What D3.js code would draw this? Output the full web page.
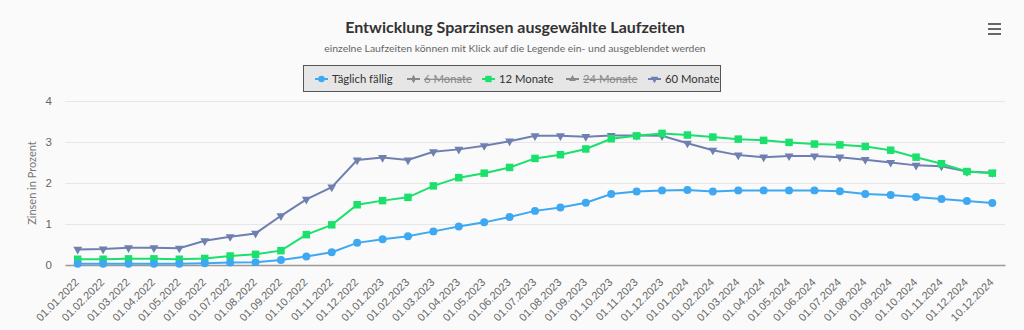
<!DOCTYPE html>
<html><head><meta charset="utf-8">
<script src="https://cdn.jsdelivr.net/npm/d3@7"></script>
<style>
html,body{margin:0;padding:0;background:#fafafa;}
svg{display:block;font-family:"Lato","Open Sans",sans-serif;}
</style></head>
<body>
<svg id="chart" width="1024" height="330"></svg>
<script>
const categories = ["01.01.2022","01.02.2022","01.03.2022","01.04.2022","01.05.2022","01.06.2022","01.07.2022","01.08.2022","01.09.2022","01.10.2022","01.11.2022","01.12.2022",
"01.01.2023","01.02.2023","01.03.2023","01.04.2023","01.05.2023","01.06.2023","01.07.2023","01.08.2023","01.09.2023","01.10.2023","01.11.2023","01.12.2023",
"01.01.2024","01.02.2024","01.03.2024","01.04.2024","01.05.2024","01.06.2024","01.07.2024","01.08.2024","01.09.2024","01.10.2024","01.11.2024","01.12.2024","10.12.2024"];
const taeglich = [0.03,0.03,0.03,0.03,0.03,0.04,0.06,0.07,0.12,0.21,0.31,0.54,
0.63,0.70,0.82,0.94,1.04,1.17,1.32,1.40,1.52,1.73,1.79,1.82,
1.83,1.79,1.82,1.82,1.82,1.82,1.80,1.73,1.71,1.66,1.61,1.56,1.51];
const monate12 = [0.14,0.14,0.15,0.15,0.14,0.16,0.22,0.26,0.35,0.74,0.98,1.47,
1.57,1.65,1.93,2.13,2.24,2.38,2.60,2.69,2.83,3.08,3.15,3.21,
3.17,3.12,3.07,3.04,2.99,2.95,2.93,2.89,2.80,2.63,2.47,2.28,2.24];
const monate60 = [0.38,0.39,0.42,0.42,0.41,0.59,0.69,0.77,1.20,1.60,1.90,2.56,
2.62,2.56,2.76,2.82,2.91,3.02,3.15,3.15,3.13,3.16,3.16,3.15,
2.97,2.80,2.68,2.63,2.66,2.66,2.63,2.57,2.50,2.43,2.41,2.28,2.25];
const yTicks = [0,1,2,3,4];
const legendNames = ["Täglich fällig","6 Monate","12 Monate","24 Monate","60 Monate"];
const legendVisible = [true,false,true,false,true];

const svg = d3.select("#chart");
const L = 65, R = 1005, T = 101, B = 265;
const x = d3.scaleBand().domain(categories).range([L,R]);
const y = d3.scaleLinear().domain([0,4]).range([B,T]);
const cx = d => x(d) + x.bandwidth()/2;

// title
svg.append("text").attr("x",515).attr("y",33).attr("text-anchor","middle")
  .attr("font-size",16).attr("font-weight","bold").attr("fill","#333")
  .text("Entwicklung Sparzinsen ausgewählte Laufzeiten");
svg.append("text").attr("x",515).attr("y",52).attr("text-anchor","middle")
  .attr("font-size",10.4).attr("fill","#666")
  .text("einzelne Laufzeiten können mit Klick auf die Legende ein- und ausgeblendet werden");

// menu icon
const menu = svg.append("g");
[0,5,10].forEach(o=>menu.append("rect").attr("x",988).attr("y",23+o).attr("width",13).attr("height",2).attr("fill","#666"));

// grid
const yAxis = d3.axisLeft(y).tickValues(yTicks).tickSize(-(R-L)).tickFormat(d3.format("d"));
const gy = svg.append("g").attr("transform",`translate(${L},0)`).call(yAxis);
gy.select(".domain").remove();
gy.selectAll(".tick line").attr("stroke","#e6e6e6");
gy.selectAll(".tick text").attr("x",-13).attr("font-size",11.5).attr("fill","#666").attr("font-family",null);

// y title
svg.append("text").attr("transform",`translate(36,${(T+B)/2}) rotate(-90)`).attr("text-anchor","middle")
  .attr("font-size",11).attr("fill","#777").text("Zinsen in Prozent");

// x axis
const xAxis = d3.axisBottom(x).tickSize(0).tickFormat(d=>d);
const gx = svg.append("g").attr("transform",`translate(0,${B})`).call(xAxis);
gx.select(".domain").attr("stroke","#999").attr("stroke-width",1.5);
gx.selectAll(".tick text").attr("font-size",11).attr("fill","#666").attr("font-family",null)
  .attr("text-anchor","end").attr("dy",0).attr("y",0)
  .attr("transform","translate(2,18) rotate(-45)");

// series
const series = [
  {name:"60 Monate", data:monate60, color:"#6f80b0", sym:d3.symbolTriangle, rot:180, size:34},
  {name:"12 Monate", data:monate12, color:"#1ae06c", sym:d3.symbolSquare, rot:0, size:56},
  {name:"Täglich fällig", data:taeglich, color:"#3ea8f2", sym:d3.symbolCircle, rot:0, size:50}
];
const line = d3.line().x((d,i)=>cx(categories[i])).y(d=>y(d));
series.forEach(s=>{
  const g = svg.append("g");
  g.append("path").datum(s.data).attr("d",line).attr("fill","none").attr("stroke",s.color).attr("stroke-width",2);
  g.selectAll("path.m").data(s.data).enter().append("path").attr("class","m")
    .attr("d",d3.symbol().type(s.sym).size(s.size))
    .attr("transform",(d,i)=>`translate(${cx(categories[i])},${y(d)}) rotate(${s.rot})`)
    .attr("fill",s.color);
});

// legend
const lg = svg.append("g");
lg.append("rect").attr("x",303.5).attr("y",65.5).attr("width",417).attr("height",26)
  .attr("fill","#e6e6e6").attr("stroke","#555").attr("stroke-width",1);
const legSym = {
  "Täglich fällig":{c:"#3ea8f2",s:d3.symbolCircle,r:0,z:34},
  "6 Monate":{c:"#777",s:d3.symbolDiamond,r:0,z:20},
  "12 Monate":{c:"#1ae06c",s:d3.symbolSquare,r:0,z:40},
  "24 Monate":{c:"#777",s:d3.symbolTriangle,r:0,z:20},
  "60 Monate":{c:"#6f80b0",s:d3.symbolTriangle,r:180,z:24}
};
const legX = [315, 407, 482, 566, 648];
legendNames.forEach((n,i)=>{
  const sx = legX[i], sy = 79;
  const info = legSym[n];
  const col = legendVisible[i] ? info.c : "#888";
  lg.append("line").attr("x1",sx).attr("x2",sx+13).attr("y1",sy).attr("y2",sy).attr("stroke",col).attr("stroke-width",2);
  lg.append("path").attr("d",d3.symbol().type(info.s).size(info.z)).attr("fill",col)
    .attr("transform",`translate(${sx+6.5},${sy}) rotate(${info.r})`);
  lg.append("text").attr("x",sx+17).attr("y",sy+4).attr("font-size",11.3)
    .attr("fill",legendVisible[i] ? "#333" : "#888")
    .attr("text-decoration",legendVisible[i] ? null : "line-through")
    .text(n);
});
</script>
</body></html>
